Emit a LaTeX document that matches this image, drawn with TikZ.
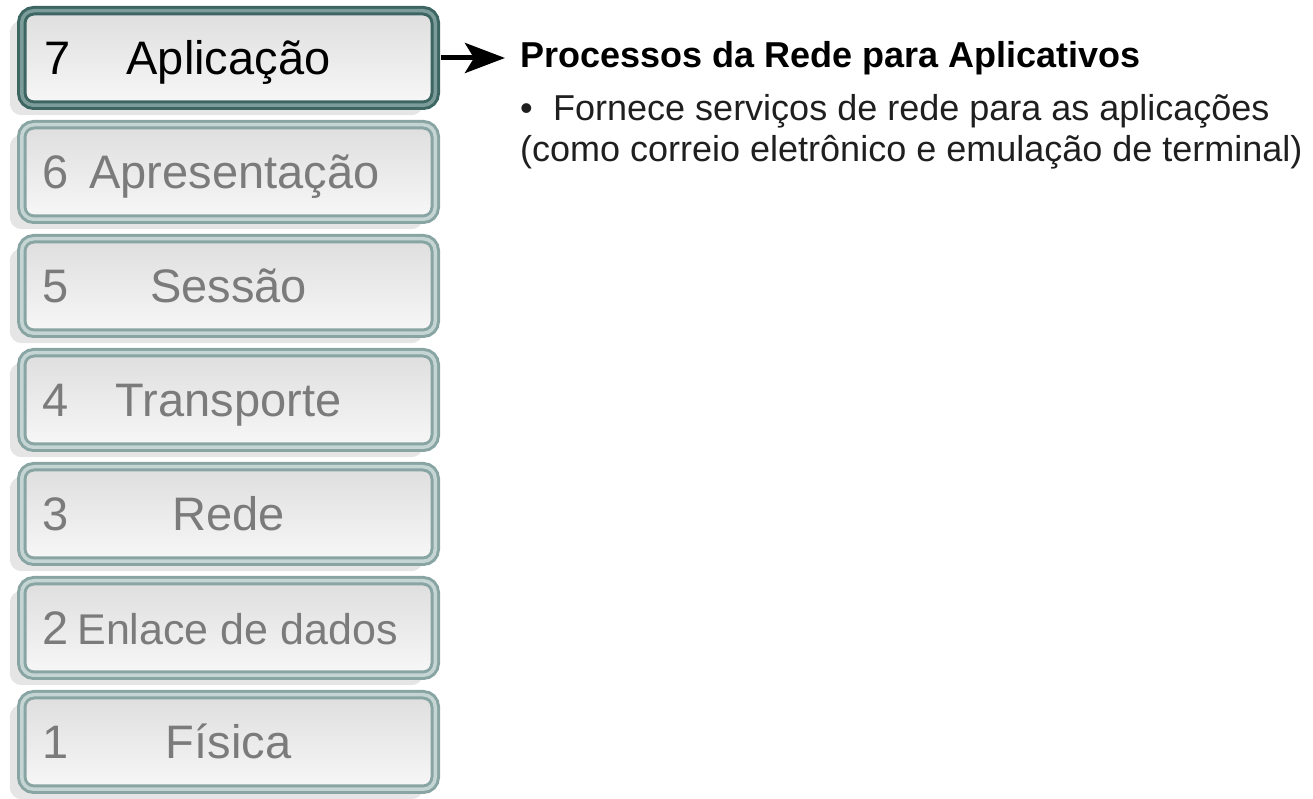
\documentclass[tikz,border=0pt]{standalone}
\usepackage{fontspec}
\setmainfont{Liberation Sans}
\usetikzlibrary{arrows.meta,shadows}

\definecolor{tealdark}{HTML}{3D6662}
\definecolor{tealcore}{HTML}{7C9C99}
\definecolor{tealpale}{HTML}{89A5A3}
\definecolor{tealpalecore}{HTML}{C4D5D4}
\definecolor{labelgray}{HTML}{7B7B7B}

\begin{document}
\begin{tikzpicture}[x=1pt,y=1pt,node distance=114pt,
    layer/.style={rounded corners=12pt,minimum width=413.5pt,minimum height=94.5pt,
      line width=3pt,draw=tealpale,double=tealpalecore,double distance=3.5pt,
      top color=black!13,middle color=white,bottom color=black!3,text=labelgray,
      font=\fontsize{47}{47}\selectfont,text height=34pt,text depth=0pt,
      drop shadow={shadow xshift=-12pt,shadow yshift=-10pt,fill=black!10,opacity=1}},
    active/.style={draw=tealdark,double=tealcore,text=black},
    num/.style={anchor=west,inner sep=0pt,text height=34pt,text depth=0pt,
      font=\fontsize{47}{47}\selectfont,text=labelgray},
    body/.style={anchor=base west,inner sep=0pt,text=black!88,font=\fontsize{36}{36}\selectfont}]
    \useasboundingbox (0,0) rectangle (1313,799);

    % the seven layers
    \node[layer,active] (L7) at (228.5,741) {Aplicação};
    \node[layer] (L6) [below of=L7] {\hspace*{12pt}Apresentação};
    \node[layer] (L5) [below of=L6] {Sessão};
    \node[layer] (L4) [below of=L5] {Transporte};
    \node[layer] (L3) [below of=L4] {Rede};
    \node[layer] (L2) [below of=L3] {\hspace*{18pt}\fontsize{43}{43}\selectfont Enlace de dados};
    \node[layer] (L1) [below of=L2] {Física};

    \node[num,text=black] (N7) at ([xshift=24pt]L7.west) {7};
    \foreach \i in {6,...,1}
      \node[num] (N\i) at ([xshift=22pt]L\i.west) {\i};

    % description of layer 7
    \coordinate (tip) at (505,741);
    \path (L7) edge[line width=5pt,shorten <=4pt,-{Stealth[length=40pt,width=30pt,inset=9pt]}] (tip);
    \node[anchor=base west,inner sep=0pt,font=\bfseries\fontsize{36}{36}\selectfont] (T) at ([xshift=15pt,yshift=-10pt]tip) {Processos da Rede para Aplicativos};
    \node[body] (B1) at ([yshift=-53pt]T.base west) {\makebox[33pt][l]{\textbullet}Fornece serviços de rede para as aplicações};
    \node[body] (B2) at ([yshift=-41pt]B1.base west) {(como correio eletrônico e emulação de terminal)};
\end{tikzpicture}
\end{document}
